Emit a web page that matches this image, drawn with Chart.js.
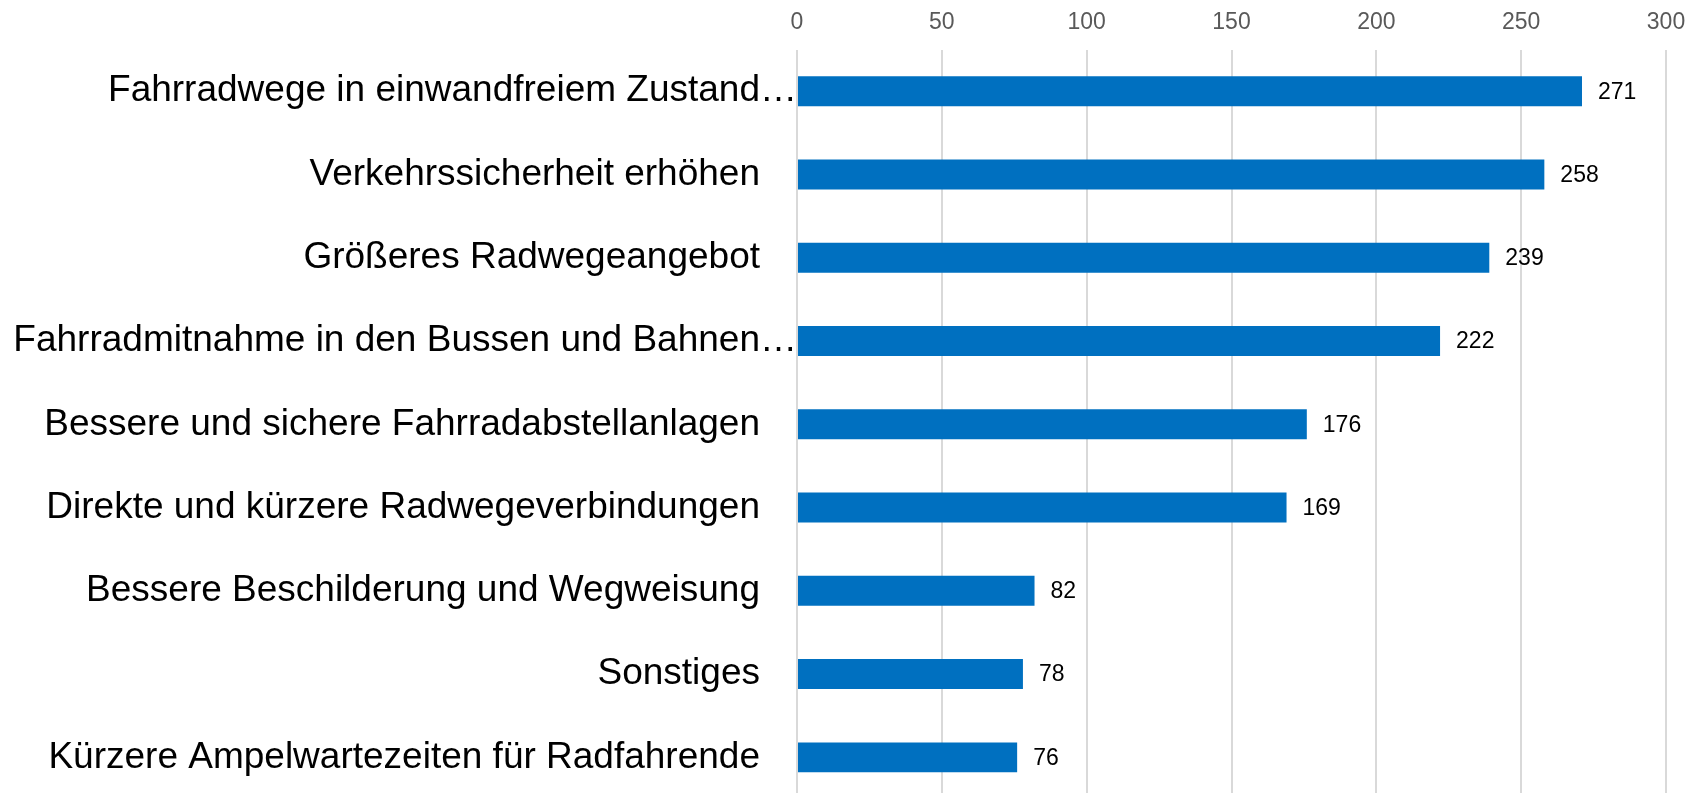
<!DOCTYPE html>
<html>
<head>
<meta charset="utf-8">
<script src="https://cdn.jsdelivr.net/npm/chart.js@4"></script>
<style>
  html, body { margin: 0; padding: 0; background: #fff; overflow: hidden; }
  #wrap { width: 1700px; height: 800px; }
</style>
</head>
<body>
<div id="wrap"><canvas id="chart" width="1700" height="800"></canvas></div>
<script>
/* ===================== DATA ===================== */

const categories = [
  "Fahrradwege in einwandfreiem Zustand…",
  "Verkehrssicherheit erhöhen",
  "Größeres Radwegeangebot",
  "Fahrradmitnahme in den Bussen und Bahnen…",
  "Bessere und sichere Fahrradabstellanlagen",
  "Direkte und kürzere Radwegeverbindungen",
  "Bessere Beschilderung und Wegweisung",
  "Sonstiges",
  "Kürzere Ampelwartezeiten für Radfahrende"
];
const counts = [271, 258, 239, 222, 176, 169, 82, 78, 76];
const axisMin = 0;
const axisMax = 300;
const axisStep = 50;

/* ===================== PLUGINS ===================== */

// value labels right of each bar
const valueLabels = {
  id: "valueLabels",
  afterDatasetsDraw(chart) {
    const ctx = chart.ctx;
    const meta = chart.getDatasetMeta(0);
    ctx.save();
    ctx.font = "23px 'Liberation Sans', Arial, sans-serif";
    ctx.fillStyle = "#000";
    ctx.textAlign = "left";
    ctx.textBaseline = "middle";
    meta.data.forEach((bar, i) => {
      ctx.fillText(String(counts[i]), bar.x + 16, bar.y + 1);
    });
    ctx.restore();
  }
};

/* ===================== CHART ===================== */

new Chart(document.getElementById("chart"), {
  type: "bar",
  data: {
    labels: categories,
    datasets: [{
      data: counts,
      backgroundColor: "#0070C0",
      barPercentage: 0.36,
      categoryPercentage: 1.0
    }]
  },
  options: {
    indexAxis: "y",
    responsive: false,
    animation: false,
    layout: { padding: { top: -4, right: 34, left: 0, bottom: 1 } },
    plugins: {
      legend: { display: false },
      tooltip: { enabled: false }
    },
    scales: {
      x: {
        position: "top",
        min: axisMin,
        max: axisMax,
        ticks: {
          stepSize: axisStep,
          color: "#595959",
          padding: 13,
          font: { family: "'Liberation Sans', Arial, sans-serif", size: 23 }
        },
        grid: { color: "#d9d9d9", lineWidth: 2, drawTicks: false },
        border: { display: false }
      },
      y: {
        afterFit: s => {
          s.width = 797;
          s.paddingTop = 0;
          s.paddingBottom = 0;
        },
        ticks: {
          padding: 0,
          color: "#000",
          font: { family: "'Liberation Sans', Arial, sans-serif", size: 37 },
          // labels that were cut off run up to the axis, the rest keep a gap
          callback: (v, i) => categories[i].endsWith("…") ? categories[i] : categories[i] + "\u2003"
        },
        grid: { display: false, drawTicks: false },
        border: { display: false }
      }
    }
  },
  plugins: [valueLabels]
});
</script>
</body>
</html>
